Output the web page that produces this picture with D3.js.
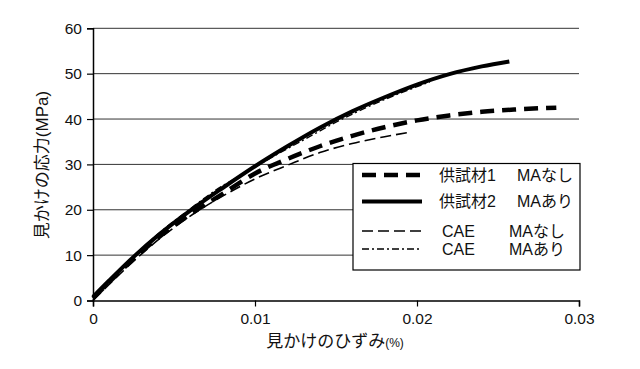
<!DOCTYPE html>
<html>
<head>
<meta charset="utf-8">
<script src="https://cdn.jsdelivr.net/npm/d3@7"></script>
<style>
  html, body { margin: 0; padding: 0; background: #fff; }
  svg { display: block; font-family: "Liberation Sans", "Noto Sans CJK JP", sans-serif; }
</style>
</head>
<body>
<svg id="chart" width="640" height="369"></svg>
<script>
// strain (-) / stress (MPa)
const sample1Strain = [0, 0.002, 0.004, 0.006, 0.008, 0.010, 0.012, 0.014, 0.016, 0.018, 0.020, 0.022, 0.024, 0.026, 0.0286]
const sample1Stress = [0.5, 7.5, 13.8, 19.0, 23.5, 28.0, 31.2, 34.0, 36.3, 38.2, 39.7, 40.8, 41.6, 42.1, 42.5]

const sample2Strain = [0, 0.001, 0.0025, 0.004, 0.006, 0.008, 0.010, 0.012, 0.014, 0.016, 0.018, 0.020, 0.022, 0.024, 0.0257]
const sample2Stress = [0.8, 4.4, 9.6, 14.3, 19.8, 24.8, 29.6, 34.0, 38.1, 41.7, 44.8, 47.6, 49.9, 51.6, 52.7]

const caeNoStrain = [0, 0.002, 0.004, 0.006, 0.008, 0.010, 0.012, 0.014, 0.016, 0.018, 0.0194]
const caeNoStress = [0, 7.0, 13.3, 18.6, 23.0, 26.8, 29.8, 32.6, 34.6, 36.1, 37.0]

const caeMaStrain = [0, 0.002, 0.004, 0.006, 0.008, 0.0091, 0.011, 0.013, 0.015, 0.018, 0.0208]
const caeMaStress = [0, 7.8, 14.6, 20.2, 25.3, 27.5, 31.5, 35.4, 39.3, 44.3, 48.2]

const xTicks = [0, 0.01, 0.02, 0.03]
const yTicks = [0, 10, 20, 30, 40, 50, 60]

const legendNames = [["供試材1", "MAなし"], ["供試材2", "MAあり"], ["CAE", "MAなし"], ["CAE", "MAあり"]]

const series = [
  { xs: sample1Strain, ys: sample1Stress, width: 4.5, dash: "14,8" },
  { xs: sample2Strain, ys: sample2Stress, width: 4, dash: null },
  { xs: caeNoStrain, ys: caeNoStress, width: 1.6, dash: "11,5" },
  { xs: caeMaStrain, ys: caeMaStress, width: 1.4, dash: "7,3,2,3" }
]

const svg = d3.select("#chart")
const pLeft = 93, pRight = 579, pTop = 28.3, pBottom = 300.5

const x = d3.scaleLinear().domain([0, 0.03]).range([pLeft, pRight])
const y = d3.scaleLinear().domain([0, 60]).range([pBottom, pTop])

// grid
svg.append("g")
  .selectAll("line")
  .data(yTicks.filter(d => d > 0))
  .enter().append("line")
    .attr("x1", pLeft).attr("x2", pRight)
    .attr("y1", d => y(d)).attr("y2", d => y(d))
    .attr("stroke", "#333")
    .attr("stroke-width", 1)

// axes
const yAxis = svg.append("g")
  .attr("transform", `translate(${pLeft},0)`)
  .call(d3.axisLeft(y).tickValues(yTicks).tickSize(6).tickPadding(5).tickFormat(d3.format("d")))
const xAxis = svg.append("g")
  .attr("transform", `translate(0,${pBottom})`)
  .call(d3.axisBottom(x).tickValues(xTicks).tickSize(6).tickPadding(6).tickFormat(d => d === 0 ? "0" : d3.format(".2f")(d)))

;[xAxis, yAxis].forEach(a => {
  a.select(".domain").attr("stroke", "#000").attr("stroke-width", 1.5)
  a.selectAll(".tick line").attr("stroke", "#000").attr("stroke-width", 1.2)
  a.selectAll(".tick text")
    .attr("fill", "#111")
    .style("font-family", "'Liberation Sans', sans-serif")
    .style("font-size", "15.5px")
})

// curves
const line = d3.line()
  .x(d => x(d[0]))
  .y(d => y(d[1]))
  .curve(d3.curveMonotoneX)

svg.append("g")
  .selectAll("path")
  .data(series)
  .enter().append("path")
    .attr("d", s => line(s.xs.map((v, i) => [v, s.ys[i]])))
    .attr("fill", "none")
    .attr("stroke", "#000")
    .attr("stroke-width", s => s.width)
    .attr("stroke-dasharray", s => s.dash)
    .attr("stroke-linecap", "butt")

// legend
const lg = svg.append("g")
lg.append("rect")
  .attr("x", 353).attr("y", 163.5)
  .attr("width", 227).attr("height", 106.5)
  .attr("fill", "#fff")
  .attr("stroke", "#000")
  .attr("stroke-width", 1.2)

const rowY = [175, 201.5, 231, 249]
const nameX = [[439, 517], [439, 517], [442, 509], [442, 509]]

legendNames.forEach((nm, i) => {
  lg.append("line")
    .attr("x1", 362).attr("x2", 422)
    .attr("y1", rowY[i]).attr("y2", rowY[i])
    .attr("stroke", "#000")
    .attr("stroke-width", series[i].width)
    .attr("stroke-dasharray", series[i].dash)
  nm.forEach((t, j) => {
    lg.append("text")
      .attr("x", nameX[i][j]).attr("y", rowY[i])
      .attr("dy", "0.36em")
      .style("font-size", "16px")
      .attr("fill", "#111")
      .text(t)
  })
})

// axis titles
svg.append("text")
  .attr("transform", "translate(48,165) rotate(-90)")
  .attr("text-anchor", "middle")
  .style("font-size", "17px")
  .attr("fill", "#111")
  .text("見かけの応力(MPa)")

const xt = svg.append("text")
  .attr("x", 335).attr("y", 347)
  .attr("text-anchor", "middle")
  .style("font-size", "17px")
  .attr("fill", "#111")
xt.append("tspan").text("見かけのひずみ")
xt.append("tspan").style("font-size", "12px").text("(%)")
</script>
</body>
</html>
